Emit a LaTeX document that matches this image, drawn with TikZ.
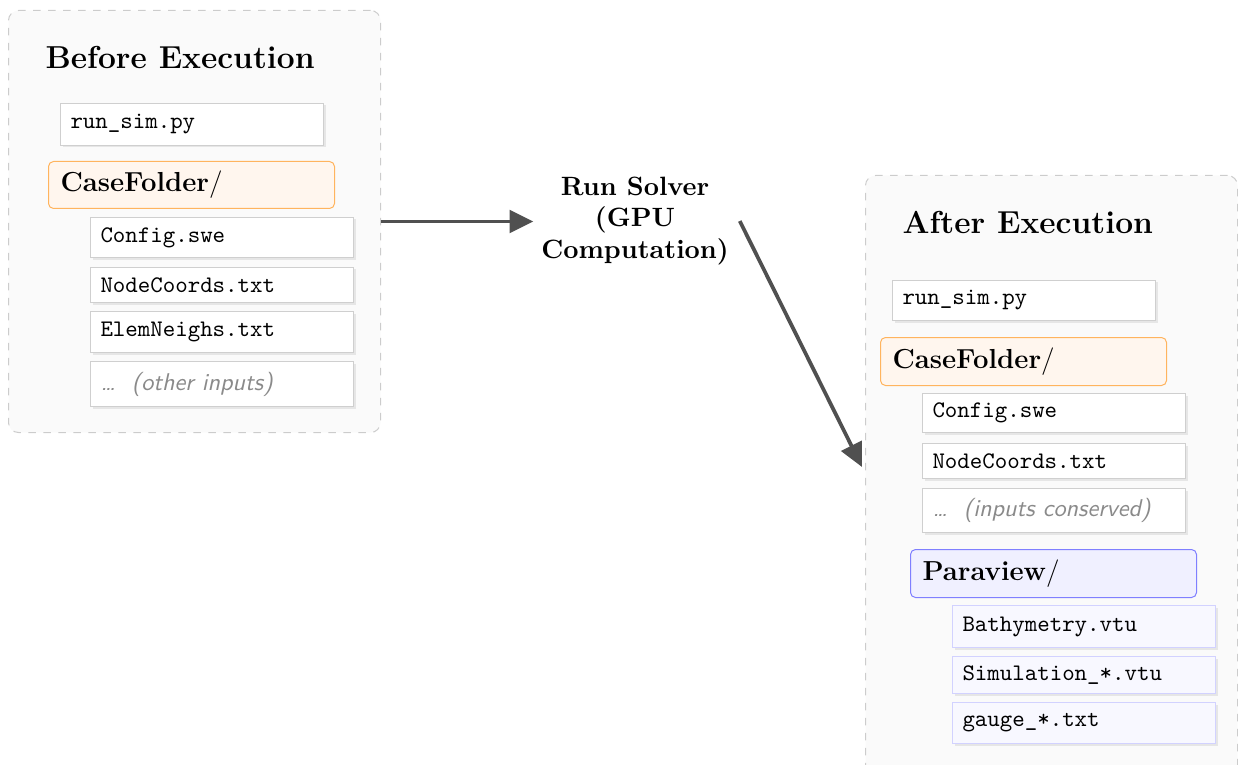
\documentclass[tikz,border=0pt]{standalone}
\usetikzlibrary{shadows,arrows.meta}
\definecolor{panelfill}{HTML}{FAFAFA}
\definecolor{paneldraw}{HTML}{CCCCCC}
\definecolor{filedraw}{HTML}{CFCFCF}
\definecolor{orfill}{HTML}{FFF6EE}
\definecolor{ordraw}{HTML}{FFB45E}
\definecolor{blfill}{HTML}{F0F0FF}
\definecolor{bldraw}{HTML}{7F7FFF}
\definecolor{bcfill}{HTML}{F8F8FF}
\definecolor{bcdraw}{HTML}{D2D2FF}
\definecolor{arrowc}{HTML}{505050}
\definecolor{graytext}{HTML}{8A8A8A}
\tikzset{
  panel/.style={draw=paneldraw, dashed, fill=panelfill, rounded corners=4pt, anchor=north west, inner sep=0pt},
  paneltitle/.style={anchor=west, inner sep=0pt, font=\fontsize{12.7}{15}\selectfont\bfseries},
  filebox/.style={draw=filedraw, fill=white, anchor=north west, inner xsep=4pt, inner ysep=0pt,
     text width=97.2pt, align=left, font=\fontsize{9.5}{11}\selectfont\ttfamily,
     drop shadow={shadow xshift=0.8pt, shadow yshift=-0.8pt, fill=black, opacity=0.08}},
  dimbox/.style={filebox, font=\fontsize{9.7}{11}\selectfont\sffamily\itshape, text=graytext},
  folderbox/.style={draw=ordraw, fill=orfill, rounded corners=2pt, anchor=north west, inner xsep=4.8pt, inner ysep=0pt,
     text width=104.8pt, align=left, font=\fontsize{11}{13}\selectfont},
  pvbox/.style={folderbox, draw=bldraw, fill=blfill},
  pvfile/.style={filebox, draw=bcdraw, fill=bcfill},
  solver/.style={align=center, inner sep=3pt, font=\fontsize{10.6}{12.5}\selectfont\bfseries},
  flow/.style={draw=arrowc, line width=1.5pt, -{Triangle[length=9.5pt,width=9pt]}}
}
\begin{document}
\begin{tikzpicture}[x=0.4pt,y=-0.4pt]
\useasboundingbox (0,0) rectangle (1238,765);
% left panel
\node[panel, minimum width=148.8pt, minimum height=168.8pt] (left) at (8,10) {};
\node[paneltitle] (t1) at (45,57) {Before Execution};
\node[filebox, minimum height=16.8pt] (l1) at (60,103) {run\_sim.py};
\node[folderbox, minimum height=18.8pt] (lf) at (48,161) {\textbf{CaseFolder}/};
\node[filebox, minimum height=16pt] (l2) at (90,217) {Config.swe};
\node[filebox, minimum height=14pt] (l3) at (90,267) {NodeCoords.txt};
\node[filebox, minimum height=16.4pt] (l4) at (90,311) {ElemNeighs.txt};
\node[dimbox, minimum height=18pt] (l5) at (90,361) {\ldots\ \ (other inputs)};
% solver
\node[solver] (run) at (635,221) {Run Solver\\(GPU\\Computation)};
% right panel
\node[panel, minimum width=148.8pt, minimum height=250pt] (right) at (865,175) {};
\node[paneltitle] (t2) at (902,222) {After Execution};
\node[filebox, minimum height=16pt] (r1) at (892,280) {run\_sim.py};
\node[folderbox, minimum height=19.2pt] (rf) at (880,337) {\textbf{CaseFolder}/};
\node[filebox, minimum height=15.6pt] (r2) at (922,393) {Config.swe};
\node[filebox, minimum height=14pt] (r3) at (922,443) {NodeCoords.txt};
\node[dimbox, minimum height=17.6pt] (r4) at (922,488) {\ldots\ \ (inputs conserved)};
\node[pvbox, minimum height=19.2pt] (pv) at (910,549) {\textbf{Paraview}/};
\node[pvfile, minimum height=16.8pt] (p1) at (952,605) {Bathymetry.vtu};
\node[pvfile, minimum height=14.8pt] (p2) at (952,656) {Simulation\_*.vtu};
\node[pvfile, minimum height=16.4pt] (p3) at (952,702) {gauge\_*.txt};
% connectors
\coordinate (a2end) at (862,467);
\draw[flow] (left.east) -- (left.east -| run.west);
\draw[flow] (run.east) ++(3,0) -- (a2end);
\end{tikzpicture}
\end{document}
